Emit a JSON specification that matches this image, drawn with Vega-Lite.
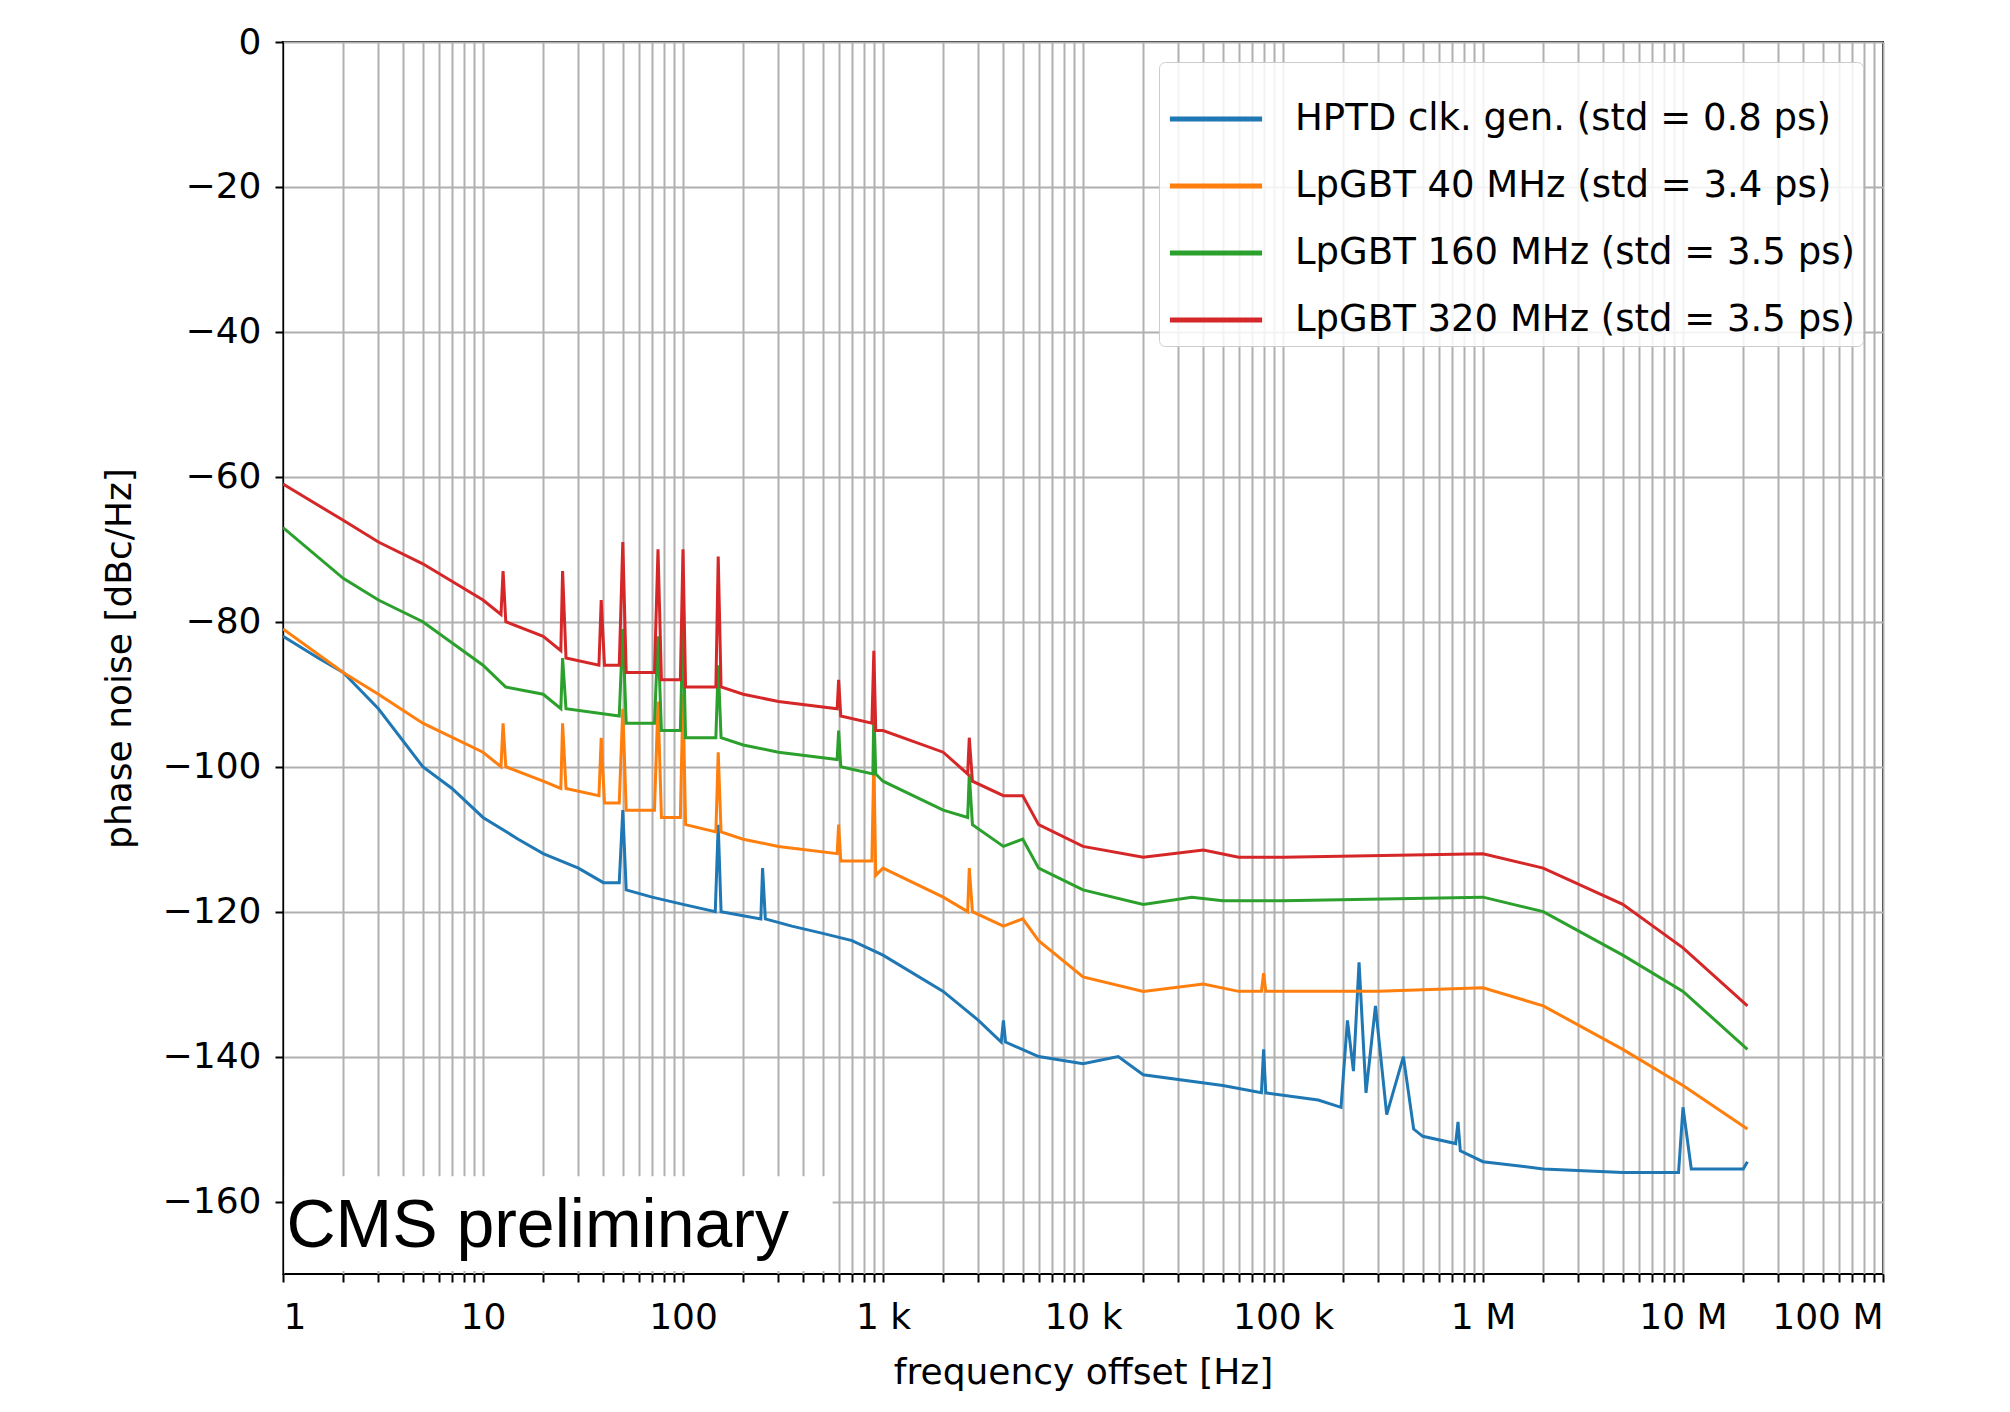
{
  "$schema": "https://vega.github.io/schema/vega-lite/v6.json",
  "width": 1600,
  "height": 1232,
  "autosize": "none",
  "padding": {"left": 283, "top": 42, "right": 127, "bottom": 138},
  "background": "white",
  "config": {
    "font": "DejaVu Sans",
    "view": {"stroke": "black", "strokeWidth": 2},
    "axis": {"labelFontSize": 36, "titleFontSize": 36, "labelColor": "black", "titleColor": "black", "titleFontWeight": "normal", "gridColor": "#b0b0b0", "gridWidth": 2, "gridOpacity": 1, "domainColor": "black", "tickColor": "black", "tickSize": 8, "tickWidth": 2}
  },
  "datasets": {
    "noise": [
      {"s":"HPTD clk. gen. (std = 0.8 ps)","f":1,"v":-82},{"s":"HPTD clk. gen. (std = 0.8 ps)","f":1.5,"v":-85},{"s":"HPTD clk. gen. (std = 0.8 ps)","f":2,"v":-87},{"s":"HPTD clk. gen. (std = 0.8 ps)","f":3,"v":-92},{"s":"HPTD clk. gen. (std = 0.8 ps)","f":5,"v":-100},{"s":"HPTD clk. gen. (std = 0.8 ps)","f":7,"v":-103},{"s":"HPTD clk. gen. (std = 0.8 ps)","f":10,"v":-107},{"s":"HPTD clk. gen. (std = 0.8 ps)","f":15,"v":-110},{"s":"HPTD clk. gen. (std = 0.8 ps)","f":20,"v":-112},{"s":"HPTD clk. gen. (std = 0.8 ps)","f":30,"v":-114},{"s":"HPTD clk. gen. (std = 0.8 ps)","f":40,"v":-116},{"s":"HPTD clk. gen. (std = 0.8 ps)","f":48,"v":-116},{"s":"HPTD clk. gen. (std = 0.8 ps)","f":50,"v":-106},{"s":"HPTD clk. gen. (std = 0.8 ps)","f":52,"v":-117},{"s":"HPTD clk. gen. (std = 0.8 ps)","f":70,"v":-118},{"s":"HPTD clk. gen. (std = 0.8 ps)","f":100,"v":-119},{"s":"HPTD clk. gen. (std = 0.8 ps)","f":145,"v":-120},{"s":"HPTD clk. gen. (std = 0.8 ps)","f":150,"v":-108},{"s":"HPTD clk. gen. (std = 0.8 ps)","f":155,"v":-120},{"s":"HPTD clk. gen. (std = 0.8 ps)","f":245,"v":-121},{"s":"HPTD clk. gen. (std = 0.8 ps)","f":250,"v":-114},{"s":"HPTD clk. gen. (std = 0.8 ps)","f":258,"v":-121},{"s":"HPTD clk. gen. (std = 0.8 ps)","f":350,"v":-122},{"s":"HPTD clk. gen. (std = 0.8 ps)","f":500,"v":-123},{"s":"HPTD clk. gen. (std = 0.8 ps)","f":700,"v":-124},{"s":"HPTD clk. gen. (std = 0.8 ps)","f":1000,"v":-126},{"s":"HPTD clk. gen. (std = 0.8 ps)","f":2000,"v":-131},{"s":"HPTD clk. gen. (std = 0.8 ps)","f":3000,"v":-135},{"s":"HPTD clk. gen. (std = 0.8 ps)","f":3900,"v":-138},{"s":"HPTD clk. gen. (std = 0.8 ps)","f":4000,"v":-135},{"s":"HPTD clk. gen. (std = 0.8 ps)","f":4100,"v":-138},{"s":"HPTD clk. gen. (std = 0.8 ps)","f":6000,"v":-140},{"s":"HPTD clk. gen. (std = 0.8 ps)","f":10000,"v":-141},{"s":"HPTD clk. gen. (std = 0.8 ps)","f":15000,"v":-140},{"s":"HPTD clk. gen. (std = 0.8 ps)","f":20000,"v":-142.5},{"s":"HPTD clk. gen. (std = 0.8 ps)","f":50000,"v":-144},{"s":"HPTD clk. gen. (std = 0.8 ps)","f":78000,"v":-145},{"s":"HPTD clk. gen. (std = 0.8 ps)","f":80000,"v":-139},{"s":"HPTD clk. gen. (std = 0.8 ps)","f":82000,"v":-145},{"s":"HPTD clk. gen. (std = 0.8 ps)","f":150000,"v":-146},{"s":"HPTD clk. gen. (std = 0.8 ps)","f":195000,"v":-147},{"s":"HPTD clk. gen. (std = 0.8 ps)","f":210000,"v":-135},{"s":"HPTD clk. gen. (std = 0.8 ps)","f":225000,"v":-142},{"s":"HPTD clk. gen. (std = 0.8 ps)","f":240000,"v":-127},{"s":"HPTD clk. gen. (std = 0.8 ps)","f":260000,"v":-145},{"s":"HPTD clk. gen. (std = 0.8 ps)","f":290000,"v":-133},{"s":"HPTD clk. gen. (std = 0.8 ps)","f":330000,"v":-148},{"s":"HPTD clk. gen. (std = 0.8 ps)","f":400000,"v":-140},{"s":"HPTD clk. gen. (std = 0.8 ps)","f":450000,"v":-150},{"s":"HPTD clk. gen. (std = 0.8 ps)","f":500000,"v":-151},{"s":"HPTD clk. gen. (std = 0.8 ps)","f":730000,"v":-152},{"s":"HPTD clk. gen. (std = 0.8 ps)","f":750000,"v":-149},{"s":"HPTD clk. gen. (std = 0.8 ps)","f":770000,"v":-153},{"s":"HPTD clk. gen. (std = 0.8 ps)","f":1000000,"v":-154.5},{"s":"HPTD clk. gen. (std = 0.8 ps)","f":2000000,"v":-155.5},{"s":"HPTD clk. gen. (std = 0.8 ps)","f":5000000,"v":-156},{"s":"HPTD clk. gen. (std = 0.8 ps)","f":9500000,"v":-156},{"s":"HPTD clk. gen. (std = 0.8 ps)","f":10000000,"v":-147},{"s":"HPTD clk. gen. (std = 0.8 ps)","f":11000000,"v":-155.5},{"s":"HPTD clk. gen. (std = 0.8 ps)","f":20000000,"v":-155.5},{"s":"HPTD clk. gen. (std = 0.8 ps)","f":21000000,"v":-154.5},
      {"s":"LpGBT 40 MHz (std = 3.4 ps)","f":1,"v":-81},{"s":"LpGBT 40 MHz (std = 3.4 ps)","f":2,"v":-87},{"s":"LpGBT 40 MHz (std = 3.4 ps)","f":3,"v":-90},{"s":"LpGBT 40 MHz (std = 3.4 ps)","f":5,"v":-94},{"s":"LpGBT 40 MHz (std = 3.4 ps)","f":10,"v":-98},{"s":"LpGBT 40 MHz (std = 3.4 ps)","f":12.3,"v":-100},{"s":"LpGBT 40 MHz (std = 3.4 ps)","f":12.6,"v":-94},{"s":"LpGBT 40 MHz (std = 3.4 ps)","f":13,"v":-100},{"s":"LpGBT 40 MHz (std = 3.4 ps)","f":20,"v":-102},{"s":"LpGBT 40 MHz (std = 3.4 ps)","f":24.5,"v":-103},{"s":"LpGBT 40 MHz (std = 3.4 ps)","f":25,"v":-94},{"s":"LpGBT 40 MHz (std = 3.4 ps)","f":26,"v":-103},{"s":"LpGBT 40 MHz (std = 3.4 ps)","f":38,"v":-104},{"s":"LpGBT 40 MHz (std = 3.4 ps)","f":39,"v":-96},{"s":"LpGBT 40 MHz (std = 3.4 ps)","f":40.5,"v":-105},{"s":"LpGBT 40 MHz (std = 3.4 ps)","f":48,"v":-105},{"s":"LpGBT 40 MHz (std = 3.4 ps)","f":50,"v":-92},{"s":"LpGBT 40 MHz (std = 3.4 ps)","f":52,"v":-106},{"s":"LpGBT 40 MHz (std = 3.4 ps)","f":72,"v":-106},{"s":"LpGBT 40 MHz (std = 3.4 ps)","f":75,"v":-91},{"s":"LpGBT 40 MHz (std = 3.4 ps)","f":78,"v":-107},{"s":"LpGBT 40 MHz (std = 3.4 ps)","f":97,"v":-107},{"s":"LpGBT 40 MHz (std = 3.4 ps)","f":100,"v":-90},{"s":"LpGBT 40 MHz (std = 3.4 ps)","f":103,"v":-108},{"s":"LpGBT 40 MHz (std = 3.4 ps)","f":146,"v":-109},{"s":"LpGBT 40 MHz (std = 3.4 ps)","f":150,"v":-98},{"s":"LpGBT 40 MHz (std = 3.4 ps)","f":155,"v":-109},{"s":"LpGBT 40 MHz (std = 3.4 ps)","f":200,"v":-110},{"s":"LpGBT 40 MHz (std = 3.4 ps)","f":300,"v":-111},{"s":"LpGBT 40 MHz (std = 3.4 ps)","f":590,"v":-112},{"s":"LpGBT 40 MHz (std = 3.4 ps)","f":600,"v":-108},{"s":"LpGBT 40 MHz (std = 3.4 ps)","f":615,"v":-113},{"s":"LpGBT 40 MHz (std = 3.4 ps)","f":880,"v":-113},{"s":"LpGBT 40 MHz (std = 3.4 ps)","f":900,"v":-99},{"s":"LpGBT 40 MHz (std = 3.4 ps)","f":920,"v":-115},{"s":"LpGBT 40 MHz (std = 3.4 ps)","f":1000,"v":-114},{"s":"LpGBT 40 MHz (std = 3.4 ps)","f":2000,"v":-118},{"s":"LpGBT 40 MHz (std = 3.4 ps)","f":2650,"v":-120},{"s":"LpGBT 40 MHz (std = 3.4 ps)","f":2700,"v":-114},{"s":"LpGBT 40 MHz (std = 3.4 ps)","f":2800,"v":-120},{"s":"LpGBT 40 MHz (std = 3.4 ps)","f":4000,"v":-122},{"s":"LpGBT 40 MHz (std = 3.4 ps)","f":5000,"v":-121},{"s":"LpGBT 40 MHz (std = 3.4 ps)","f":6000,"v":-124},{"s":"LpGBT 40 MHz (std = 3.4 ps)","f":10000,"v":-129},{"s":"LpGBT 40 MHz (std = 3.4 ps)","f":20000,"v":-131},{"s":"LpGBT 40 MHz (std = 3.4 ps)","f":40000,"v":-130},{"s":"LpGBT 40 MHz (std = 3.4 ps)","f":60000,"v":-131},{"s":"LpGBT 40 MHz (std = 3.4 ps)","f":78000,"v":-131},{"s":"LpGBT 40 MHz (std = 3.4 ps)","f":80000,"v":-128.5},{"s":"LpGBT 40 MHz (std = 3.4 ps)","f":82000,"v":-131},{"s":"LpGBT 40 MHz (std = 3.4 ps)","f":300000,"v":-131},{"s":"LpGBT 40 MHz (std = 3.4 ps)","f":1000000,"v":-130.5},{"s":"LpGBT 40 MHz (std = 3.4 ps)","f":2000000,"v":-133},{"s":"LpGBT 40 MHz (std = 3.4 ps)","f":5000000,"v":-139},{"s":"LpGBT 40 MHz (std = 3.4 ps)","f":10000000,"v":-144},{"s":"LpGBT 40 MHz (std = 3.4 ps)","f":21000000,"v":-150},
      {"s":"LpGBT 160 MHz (std = 3.5 ps)","f":1,"v":-67},{"s":"LpGBT 160 MHz (std = 3.5 ps)","f":2,"v":-74},{"s":"LpGBT 160 MHz (std = 3.5 ps)","f":3,"v":-77},{"s":"LpGBT 160 MHz (std = 3.5 ps)","f":5,"v":-80},{"s":"LpGBT 160 MHz (std = 3.5 ps)","f":10,"v":-86},{"s":"LpGBT 160 MHz (std = 3.5 ps)","f":13,"v":-89},{"s":"LpGBT 160 MHz (std = 3.5 ps)","f":20,"v":-90},{"s":"LpGBT 160 MHz (std = 3.5 ps)","f":24.5,"v":-92},{"s":"LpGBT 160 MHz (std = 3.5 ps)","f":25,"v":-85},{"s":"LpGBT 160 MHz (std = 3.5 ps)","f":26,"v":-92},{"s":"LpGBT 160 MHz (std = 3.5 ps)","f":48,"v":-93},{"s":"LpGBT 160 MHz (std = 3.5 ps)","f":50,"v":-81},{"s":"LpGBT 160 MHz (std = 3.5 ps)","f":52,"v":-94},{"s":"LpGBT 160 MHz (std = 3.5 ps)","f":72,"v":-94},{"s":"LpGBT 160 MHz (std = 3.5 ps)","f":75,"v":-82},{"s":"LpGBT 160 MHz (std = 3.5 ps)","f":78,"v":-95},{"s":"LpGBT 160 MHz (std = 3.5 ps)","f":97,"v":-95},{"s":"LpGBT 160 MHz (std = 3.5 ps)","f":100,"v":-80},{"s":"LpGBT 160 MHz (std = 3.5 ps)","f":103,"v":-96},{"s":"LpGBT 160 MHz (std = 3.5 ps)","f":146,"v":-96},{"s":"LpGBT 160 MHz (std = 3.5 ps)","f":150,"v":-86},{"s":"LpGBT 160 MHz (std = 3.5 ps)","f":155,"v":-96},{"s":"LpGBT 160 MHz (std = 3.5 ps)","f":200,"v":-97},{"s":"LpGBT 160 MHz (std = 3.5 ps)","f":300,"v":-98},{"s":"LpGBT 160 MHz (std = 3.5 ps)","f":590,"v":-99},{"s":"LpGBT 160 MHz (std = 3.5 ps)","f":600,"v":-95},{"s":"LpGBT 160 MHz (std = 3.5 ps)","f":615,"v":-100},{"s":"LpGBT 160 MHz (std = 3.5 ps)","f":890,"v":-101},{"s":"LpGBT 160 MHz (std = 3.5 ps)","f":900,"v":-92},{"s":"LpGBT 160 MHz (std = 3.5 ps)","f":920,"v":-101},{"s":"LpGBT 160 MHz (std = 3.5 ps)","f":1000,"v":-102},{"s":"LpGBT 160 MHz (std = 3.5 ps)","f":2000,"v":-106},{"s":"LpGBT 160 MHz (std = 3.5 ps)","f":2650,"v":-107},{"s":"LpGBT 160 MHz (std = 3.5 ps)","f":2700,"v":-101},{"s":"LpGBT 160 MHz (std = 3.5 ps)","f":2800,"v":-108},{"s":"LpGBT 160 MHz (std = 3.5 ps)","f":4000,"v":-111},{"s":"LpGBT 160 MHz (std = 3.5 ps)","f":5000,"v":-110},{"s":"LpGBT 160 MHz (std = 3.5 ps)","f":6000,"v":-114},{"s":"LpGBT 160 MHz (std = 3.5 ps)","f":10000,"v":-117},{"s":"LpGBT 160 MHz (std = 3.5 ps)","f":20000,"v":-119},{"s":"LpGBT 160 MHz (std = 3.5 ps)","f":35000,"v":-118},{"s":"LpGBT 160 MHz (std = 3.5 ps)","f":50000,"v":-118.5},{"s":"LpGBT 160 MHz (std = 3.5 ps)","f":100000,"v":-118.5},{"s":"LpGBT 160 MHz (std = 3.5 ps)","f":1000000,"v":-118},{"s":"LpGBT 160 MHz (std = 3.5 ps)","f":2000000,"v":-120},{"s":"LpGBT 160 MHz (std = 3.5 ps)","f":5000000,"v":-126},{"s":"LpGBT 160 MHz (std = 3.5 ps)","f":10000000,"v":-131},{"s":"LpGBT 160 MHz (std = 3.5 ps)","f":21000000,"v":-139},
      {"s":"LpGBT 320 MHz (std = 3.5 ps)","f":1,"v":-61},{"s":"LpGBT 320 MHz (std = 3.5 ps)","f":2,"v":-66},{"s":"LpGBT 320 MHz (std = 3.5 ps)","f":3,"v":-69},{"s":"LpGBT 320 MHz (std = 3.5 ps)","f":5,"v":-72},{"s":"LpGBT 320 MHz (std = 3.5 ps)","f":10,"v":-77},{"s":"LpGBT 320 MHz (std = 3.5 ps)","f":12.3,"v":-79},{"s":"LpGBT 320 MHz (std = 3.5 ps)","f":12.6,"v":-73},{"s":"LpGBT 320 MHz (std = 3.5 ps)","f":13,"v":-80},{"s":"LpGBT 320 MHz (std = 3.5 ps)","f":20,"v":-82},{"s":"LpGBT 320 MHz (std = 3.5 ps)","f":24.5,"v":-84},{"s":"LpGBT 320 MHz (std = 3.5 ps)","f":25,"v":-73},{"s":"LpGBT 320 MHz (std = 3.5 ps)","f":26,"v":-85},{"s":"LpGBT 320 MHz (std = 3.5 ps)","f":38,"v":-86},{"s":"LpGBT 320 MHz (std = 3.5 ps)","f":39,"v":-77},{"s":"LpGBT 320 MHz (std = 3.5 ps)","f":40.5,"v":-86},{"s":"LpGBT 320 MHz (std = 3.5 ps)","f":48,"v":-86},{"s":"LpGBT 320 MHz (std = 3.5 ps)","f":50,"v":-69},{"s":"LpGBT 320 MHz (std = 3.5 ps)","f":52,"v":-87},{"s":"LpGBT 320 MHz (std = 3.5 ps)","f":72,"v":-87},{"s":"LpGBT 320 MHz (std = 3.5 ps)","f":75,"v":-70},{"s":"LpGBT 320 MHz (std = 3.5 ps)","f":78,"v":-88},{"s":"LpGBT 320 MHz (std = 3.5 ps)","f":97,"v":-88},{"s":"LpGBT 320 MHz (std = 3.5 ps)","f":100,"v":-70},{"s":"LpGBT 320 MHz (std = 3.5 ps)","f":103,"v":-89},{"s":"LpGBT 320 MHz (std = 3.5 ps)","f":146,"v":-89},{"s":"LpGBT 320 MHz (std = 3.5 ps)","f":150,"v":-71},{"s":"LpGBT 320 MHz (std = 3.5 ps)","f":155,"v":-89},{"s":"LpGBT 320 MHz (std = 3.5 ps)","f":200,"v":-90},{"s":"LpGBT 320 MHz (std = 3.5 ps)","f":300,"v":-91},{"s":"LpGBT 320 MHz (std = 3.5 ps)","f":590,"v":-92},{"s":"LpGBT 320 MHz (std = 3.5 ps)","f":600,"v":-88},{"s":"LpGBT 320 MHz (std = 3.5 ps)","f":615,"v":-93},{"s":"LpGBT 320 MHz (std = 3.5 ps)","f":880,"v":-94},{"s":"LpGBT 320 MHz (std = 3.5 ps)","f":900,"v":-84},{"s":"LpGBT 320 MHz (std = 3.5 ps)","f":920,"v":-95},{"s":"LpGBT 320 MHz (std = 3.5 ps)","f":1000,"v":-95},{"s":"LpGBT 320 MHz (std = 3.5 ps)","f":2000,"v":-98},{"s":"LpGBT 320 MHz (std = 3.5 ps)","f":2650,"v":-101},{"s":"LpGBT 320 MHz (std = 3.5 ps)","f":2700,"v":-96},{"s":"LpGBT 320 MHz (std = 3.5 ps)","f":2800,"v":-102},{"s":"LpGBT 320 MHz (std = 3.5 ps)","f":4000,"v":-104},{"s":"LpGBT 320 MHz (std = 3.5 ps)","f":5000,"v":-104},{"s":"LpGBT 320 MHz (std = 3.5 ps)","f":6000,"v":-108},{"s":"LpGBT 320 MHz (std = 3.5 ps)","f":10000,"v":-111},{"s":"LpGBT 320 MHz (std = 3.5 ps)","f":20000,"v":-112.5},{"s":"LpGBT 320 MHz (std = 3.5 ps)","f":40000,"v":-111.5},{"s":"LpGBT 320 MHz (std = 3.5 ps)","f":60000,"v":-112.5},{"s":"LpGBT 320 MHz (std = 3.5 ps)","f":100000,"v":-112.5},{"s":"LpGBT 320 MHz (std = 3.5 ps)","f":1000000,"v":-112},{"s":"LpGBT 320 MHz (std = 3.5 ps)","f":2000000,"v":-114},{"s":"LpGBT 320 MHz (std = 3.5 ps)","f":5000000,"v":-119},{"s":"LpGBT 320 MHz (std = 3.5 ps)","f":10000000,"v":-125},{"s":"LpGBT 320 MHz (std = 3.5 ps)","f":21000000,"v":-133}
    ]
  },
  "layer": [
    {
      "data": {"name": "noise"},
      "mark": {"type": "line", "strokeWidth": 3, "clip": true},
      "encoding": {
        "x": {"field": "f", "type": "quantitative", "title": "frequency offset [Hz]",
          "scale": {"type": "log", "domain": [1, 100000000], "nice": false},
          "axis": {"values": [1,2,3,4,5,6,7,8,9,10,20,30,40,50,60,70,80,90,100,200,300,400,500,600,700,800,900,1000,2000,3000,4000,5000,6000,7000,8000,9000,10000,20000,30000,40000,50000,60000,70000,80000,90000,100000,200000,300000,400000,500000,600000,700000,800000,900000,1000000,2000000,3000000,4000000,5000000,6000000,7000000,8000000,9000000,10000000,20000000,30000000,40000000,50000000,60000000,70000000,80000000,90000000,100000000],
            "labelExpr": "datum.value == 1 ? '1' : datum.value == 10 ? '10' : datum.value == 100 ? '100' : datum.value == 1000 ? '1 k' : datum.value == 10000 ? '10 k' : datum.value == 100000 ? '100 k' : datum.value == 1000000 ? '1 M' : datum.value == 10000000 ? '10 M' : datum.value == 100000000 ? '100 M' : ''",
            "labelOverlap": false, "labelPadding": 18, "titlePadding": 20}},
        "y": {"field": "v", "type": "quantitative", "title": "phase noise [dBc/Hz]",
          "scale": {"domain": [-170, 0], "nice": false},
          "axis": {"values": [0,-20,-40,-60,-80,-100,-120,-140,-160], "labelExpr": "replace(datum.label, '-', '−')", "labelPadding": 14, "titlePadding": 24}},
        "color": {"field": "s", "type": "nominal",
          "scale": {"domain": ["HPTD clk. gen. (std = 0.8 ps)", "LpGBT 40 MHz (std = 3.4 ps)", "LpGBT 160 MHz (std = 3.5 ps)", "LpGBT 320 MHz (std = 3.5 ps)"], "range": ["#1f77b4", "#ff7f0e", "#2ca02c", "#d62728"]},
          "legend": {"title": null, "orient": "top-right", "offset": 20, "symbolType": "stroke", "symbolStrokeWidth": 5, "symbolSize": 8500, "labelOffset": 30, "labelFontSize": 37, "labelLimit": 900, "rowPadding": 0, "padding": 8, "fillColor": "rgba(255,255,255,0.85)", "strokeColor": "#cccccc", "cornerRadius": 6}}
      }
    },
    {
      "data": {"values": [{"a": 1}]},
      "mark": {"type": "rect", "color": "white"},
      "encoding": {
        "x": {"datum": 1.02, "type": "quantitative"},
        "x2": {"datum": 560},
        "y": {"datum": -169.6, "type": "quantitative"},
        "y2": {"datum": -156.5}
      }
    },
    {
      "data": {"values": [{"t": "CMS preliminary"}]},
      "mark": {"type": "text", "font": "Liberation Sans", "fontSize": 68, "align": "left", "baseline": "middle", "color": "black"},
      "encoding": {
        "x": {"datum": 1.04, "type": "quantitative"},
        "y": {"datum": -163.5, "type": "quantitative"},
        "text": {"field": "t"}
      }
    }
  ]
}
